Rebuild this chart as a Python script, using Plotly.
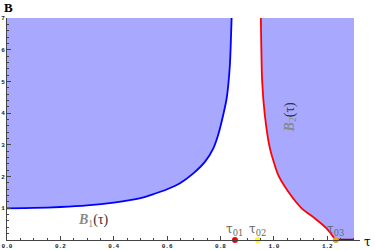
import plotly.graph_objects as go

# ---- data ----
B_MAX = 7.0
TAU_MAX = 1.3

tau1 = [0.0, 0.1, 0.2, 0.3, 0.4, 0.5, 0.55, 0.6, 0.648, 0.698, 0.742, 0.773, 0.791, 0.81, 0.823, 0.835, 0.8415]
b1 = [1.0, 1.01, 1.04, 1.09, 1.18, 1.32, 1.45, 1.6, 1.79, 2.10, 2.47, 2.89, 3.31, 3.94, 4.47, 5.52, 7.0]

tau2 = [0.951, 0.956, 0.966, 0.985, 1.016, 1.054, 1.104, 1.154, 1.197, 1.232]
b2 = [7.0, 4.99, 3.94, 2.89, 2.05, 1.52, 1.0, 0.68, 0.37, 0.0]

tau0_names = ["01", "02", "03"]
tau0_vals = [0.854, 0.94, 1.232]
tau0_colors = ["#ff0000", "#ffff00", "#ff9900"]

x_ticks = [0.0, 0.2, 0.4, 0.6, 0.8, 1.0, 1.2]
y_ticks = [1, 2, 3, 4, 5, 6, 7]

FILL = "rgba(168,168,255,1)"

fig = go.Figure()

# region above B1
fig.add_trace(go.Scatter(
    x=tau1 + [tau1[-1], tau1[0]], y=b1 + [B_MAX, B_MAX],
    fill="toself", fillcolor=FILL, mode="lines", line=dict(width=0, shape="spline", smoothing=0.6),
    hoverinfo="skip", showlegend=False))
# region right of B2
fig.add_trace(go.Scatter(
    x=tau2 + [TAU_MAX, TAU_MAX], y=b2 + [0, B_MAX],
    fill="toself", fillcolor=FILL, mode="none", hoverinfo="skip", showlegend=False))

# curves
fig.add_trace(go.Scatter(x=tau1, y=b1, mode="lines",
                         line=dict(color="#0000ff", width=1.8, shape="spline", smoothing=0.6),
                         showlegend=False))
fig.add_trace(go.Scatter(x=tau2, y=b2, mode="lines",
                         line=dict(color="#ff0000", width=1.8, shape="spline", smoothing=0.6),
                         showlegend=False))

# dark red segment on the axis
fig.add_trace(go.Scatter(x=[tau0_vals[2], TAU_MAX], y=[0, 0], mode="lines",
                         line=dict(color="#8b0000", width=2.5), cliponaxis=False, showlegend=False))

# special points
fig.add_trace(go.Scatter(x=tau0_vals, y=[0, 0, 0], mode="markers",
                         marker=dict(color=tau0_colors, size=6, line=dict(width=0)),
                         cliponaxis=False, showlegend=False))

for name, v in zip(tau0_names, tau0_vals):
    fig.add_annotation(x=v, y=0, xref="x", yref="y", text="τ<sub>%s</sub>" % name,
                       showarrow=False, yshift=10, xshift=0,
                       font=dict(family="DejaVu Serif", size=12, color="#666666"))

label_tpl = ("<i><b><span style='color:#8a8a8a'>B</span></b></i>"
             "<sub><span style='color:#8a8a8a'>%d</span></sub>"
             "<span style='color:#333333'>(τ)</span>")
fig.add_annotation(x=0.325, y=0.6, xref="x", yref="y", text=label_tpl % 1, showarrow=False,
                   font=dict(family="Liberation Serif", size=14, color="#333333"))
fig.add_annotation(x=1.062, y=3.88, xref="x", yref="y", textangle=-90, text=label_tpl % 2,
                   showarrow=False, font=dict(family="Liberation Serif", size=14, color="#333333"))

# axis labels
fig.add_annotation(x=0, y=1, xref="paper", yref="paper", text="<b>B</b>", showarrow=False,
                   xanchor="left", yanchor="bottom", xshift=-5, yshift=1,
                   font=dict(family="Liberation Serif", size=13, color="#000000"))
fig.add_annotation(x=1, y=0, xref="paper", yref="paper", text="τ", showarrow=False,
                   xanchor="left", yanchor="middle", xshift=2, yshift=-2,
                   font=dict(family="DejaVu Serif", size=12, color="#000000"))

axis_common = dict(showgrid=False, zeroline=False, showline=True, linecolor="#444444", linewidth=1,
                   ticks="inside", ticklen=4, tickwidth=1, tickcolor="#444444", automargin=False,
                   tickfont=dict(family="Liberation Mono", size=6, color="#222222"))

fig.update_xaxes(range=[0, 1.3225], tickvals=x_ticks, ticktext=["<b>%.1f</b>" % t for t in x_ticks],
                 minor=dict(ticks="inside", ticklen=2, dtick=0.05, tick0=0, tickcolor="#444444"),
                 **axis_common)
fig.update_yaxes(range=[0, B_MAX], tickvals=y_ticks, ticktext=["<b>%d</b>" % t for t in y_ticks],
                 minor=dict(ticks="inside", ticklen=2, dtick=0.2, tick0=0, tickcolor="#444444"),
                 **axis_common)

fig.update_layout(width=375, height=250, margin=dict(l=7, r=15, t=18, b=10),
                  plot_bgcolor="white", paper_bgcolor="white", showlegend=False)

fig.write_html("out.html", config={"displayModeBar": False},
               post_script="document.body.style.margin='0';document.body.style.overflow='hidden';")
